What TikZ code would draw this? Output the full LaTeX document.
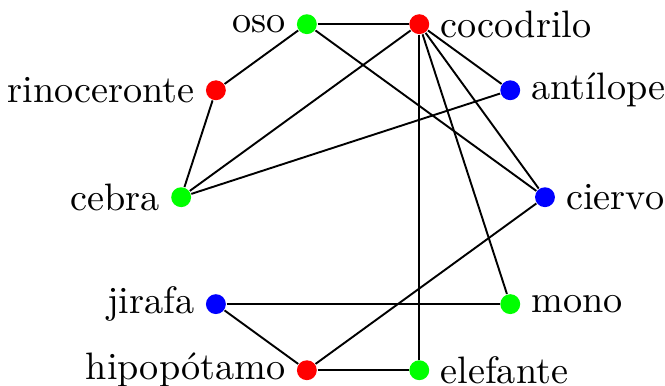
\documentclass[tikz,border=0pt]{standalone}
\usepackage{xcolor}
\usepackage{tikz}
\definecolor{vermelho}{HTML}{FF0000}
\definecolor{verde}{HTML}{00FF00}
\definecolor{azul}{HTML}{0000FF}

\begin{document}
\begin{tikzpicture}[
  vertice/.style={circle, fill=#1, inner sep=0pt, minimum size=5.2pt},
  rotulo/.style={inner sep=2.6pt},
  aresta/.style={line width=0.5pt, draw=black}]

  \useasboundingbox (-95pt,-49.2pt) rectangle (79pt,51.6pt);

  % vertices on a circle, coloured by class
  \foreach \nome/\texto/\ang/\cor/\lado in {
      oso/oso/108/verde/left,
      cocodrilo/cocodrilo/72/vermelho/right,
      antilope/antílope/36/azul/right,
      ciervo/ciervo/0/azul/right,
      mono/mono/-36/verde/right,
      elefante/elefante/-72/verde/right,
      hipopotamo/hipopótamo/-108/vermelho/left,
      jirafa/jirafa/-144/azul/left,
      cebra/cebra/180/verde/left,
      rinoceronte/rinoceronte/144/vermelho/left}
    \node[vertice=\cor, label={[rotulo]\lado:\texto}] (\nome) at (\ang:47.6pt) {};

  \draw[aresta] (oso) -- (cocodrilo);
  \draw[aresta] (oso) -- (rinoceronte);
  \draw[aresta] (oso) -- (ciervo);
  \draw[aresta] (rinoceronte) -- (cebra);
  \draw[aresta] (cocodrilo) -- (cebra);
  \draw[aresta] (cebra) -- (antilope);
  \draw[aresta] (cocodrilo) -- (antilope);
  \draw[aresta] (cocodrilo) -- (ciervo);
  \draw[aresta] (cocodrilo) -- (mono);
  \draw[aresta] (cocodrilo) -- (elefante);
  \draw[aresta] (ciervo) -- (hipopotamo);
  \draw[aresta] (jirafa) -- (mono);
  \draw[aresta] (jirafa) -- (hipopotamo);
  \draw[aresta] (hipopotamo) -- (elefante);
\end{tikzpicture}
\end{document}
